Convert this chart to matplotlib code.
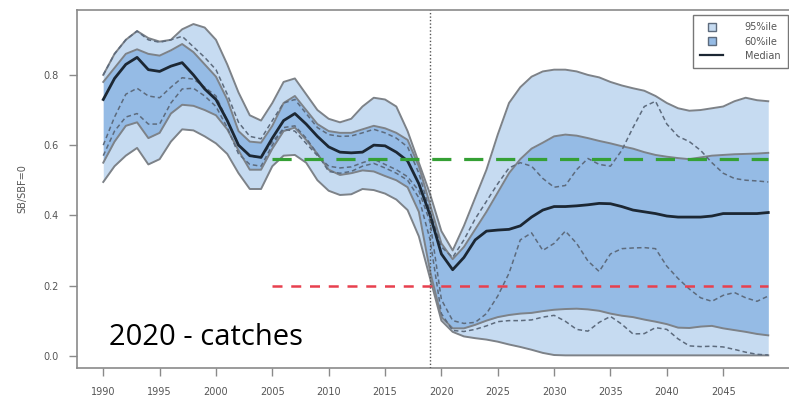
import numpy as np
import matplotlib.pyplot as plt
from matplotlib.lines import Line2D

years = np.arange(1990, 2050)

median = [0.73, 0.79, 0.83, 0.85, 0.815, 0.81, 0.825, 0.835, 0.80, 0.76,
          0.73, 0.67, 0.60, 0.57, 0.565, 0.62, 0.67, 0.69, 0.66, 0.625,
          0.595, 0.58, 0.578, 0.58, 0.60, 0.598, 0.58, 0.555, 0.49, 0.40,
          0.29, 0.245, 0.28, 0.33, 0.355, 0.358, 0.36, 0.37, 0.395, 0.415,
          0.425, 0.425, 0.427, 0.43, 0.434, 0.433, 0.425, 0.415, 0.41, 0.405,
          0.398, 0.395, 0.395, 0.395, 0.398, 0.405, 0.405, 0.405, 0.405, 0.408]

upper95 = [0.80, 0.86, 0.90, 0.925, 0.905, 0.895, 0.90, 0.93, 0.945, 0.935,
           0.90, 0.83, 0.75, 0.685, 0.67, 0.72, 0.78, 0.79, 0.745, 0.70,
           0.675, 0.665, 0.675, 0.71, 0.735, 0.73, 0.71, 0.64, 0.55, 0.46,
           0.355, 0.30, 0.37, 0.45, 0.53, 0.63, 0.72, 0.765, 0.795, 0.81,
           0.815, 0.815, 0.81, 0.80, 0.793, 0.78, 0.77, 0.762, 0.755, 0.74,
           0.72, 0.705, 0.698, 0.70, 0.705, 0.71, 0.725, 0.735, 0.728, 0.725]

lower95 = [0.495, 0.54, 0.57, 0.592, 0.545, 0.56, 0.61, 0.645, 0.642, 0.625,
           0.605, 0.575, 0.52, 0.475, 0.475, 0.54, 0.57, 0.572, 0.55, 0.50,
           0.47, 0.458, 0.46, 0.475, 0.472, 0.462, 0.445, 0.415, 0.34, 0.22,
           0.10, 0.068, 0.055, 0.05, 0.046, 0.04, 0.032, 0.025, 0.017, 0.008,
           0.002, 0.001, 0.001, 0.001, 0.001, 0.001, 0.001, 0.001, 0.001, 0.001,
           0.001, 0.001, 0.001, 0.001, 0.001, 0.001, 0.001, 0.001, 0.001, 0.001]

upper60 = [0.78, 0.82, 0.86, 0.873, 0.86, 0.855, 0.87, 0.888, 0.865, 0.83,
           0.795, 0.73, 0.64, 0.61, 0.607, 0.655, 0.72, 0.74, 0.70, 0.66,
           0.64, 0.635, 0.635, 0.645, 0.655, 0.648, 0.635, 0.615, 0.54, 0.43,
           0.32, 0.275, 0.31, 0.36, 0.41, 0.465, 0.52, 0.56, 0.59, 0.607,
           0.625, 0.63, 0.627, 0.62, 0.612, 0.605, 0.597, 0.59, 0.58, 0.572,
           0.567, 0.563, 0.56, 0.565, 0.57, 0.572, 0.574, 0.575, 0.576, 0.578]

lower60 = [0.55, 0.61, 0.655, 0.665, 0.62, 0.635, 0.69, 0.715, 0.712, 0.70,
           0.685, 0.645, 0.585, 0.53, 0.53, 0.59, 0.64, 0.65, 0.615, 0.575,
           0.53, 0.515, 0.52, 0.528, 0.525, 0.512, 0.50, 0.48, 0.41, 0.24,
           0.11, 0.078, 0.078, 0.088, 0.10, 0.11, 0.116, 0.12, 0.122, 0.127,
           0.131, 0.133, 0.134, 0.132, 0.128, 0.12, 0.114, 0.11, 0.103, 0.097,
           0.09, 0.08, 0.079, 0.083, 0.085, 0.078, 0.073, 0.068, 0.062, 0.058]

run_a = [0.80, 0.86, 0.90, 0.925, 0.90, 0.893, 0.90, 0.91, 0.88, 0.85,
         0.815, 0.745, 0.665, 0.625, 0.618, 0.67, 0.72, 0.73, 0.69, 0.65,
         0.63, 0.625, 0.626, 0.635, 0.645, 0.635, 0.62, 0.595, 0.52, 0.41,
         0.31, 0.28, 0.33, 0.39, 0.44, 0.49, 0.535, 0.55, 0.54, 0.505,
         0.48, 0.485, 0.53, 0.562, 0.545, 0.54, 0.585, 0.65, 0.71, 0.725,
         0.66, 0.625, 0.61, 0.585, 0.55, 0.52, 0.505, 0.50, 0.498, 0.495]

run_b = [0.60, 0.68, 0.745, 0.762, 0.74, 0.735, 0.765, 0.792, 0.788, 0.765,
         0.74, 0.67, 0.60, 0.568, 0.565, 0.61, 0.645, 0.64, 0.605, 0.57,
         0.54, 0.535, 0.538, 0.55, 0.56, 0.545, 0.53, 0.51, 0.47, 0.38,
         0.16, 0.10, 0.092, 0.095, 0.12, 0.17, 0.235, 0.33, 0.35, 0.30,
         0.32, 0.355, 0.32, 0.27, 0.24, 0.29, 0.305, 0.307, 0.308, 0.305,
         0.255, 0.22, 0.19, 0.165, 0.155, 0.172, 0.18, 0.165, 0.155, 0.17]

run_c = [0.57, 0.64, 0.68, 0.69, 0.66, 0.66, 0.72, 0.76, 0.762, 0.74,
         0.71, 0.65, 0.575, 0.545, 0.54, 0.60, 0.65, 0.655, 0.62, 0.575,
         0.525, 0.52, 0.525, 0.54, 0.548, 0.535, 0.52, 0.50, 0.45, 0.33,
         0.12, 0.072, 0.069, 0.075, 0.085, 0.097, 0.10, 0.10, 0.102, 0.11,
         0.115, 0.098, 0.075, 0.07, 0.095, 0.112, 0.09, 0.062, 0.063, 0.08,
         0.075, 0.048, 0.028, 0.026, 0.027, 0.025, 0.018, 0.01, 0.004, 0.002]

target_ref = 0.56
limit_ref = 0.2
ref_years = [2005, 2049]
current_year = 2019

fig = plt.figure(figsize=(7.89, 3.98), dpi=100)
ax = fig.add_axes([77/789, 30/398, 760/789, 358/398])

light = '#c6dbf1'
dark = '#95bbe5'
edge = '#7d8288'

ax.fill_between(years, lower95, upper95, color=light, lw=0, zorder=1)
ax.fill_between(years, lower60, upper60, color=dark, lw=0, zorder=2)
for s in (upper95, lower95, upper60, lower60):
    ax.plot(years, s, color=edge, lw=1.4, zorder=3)
for s in (run_a, run_b, run_c):
    ax.plot(years, s, color='#5d6b7d', lw=1.1, ls=(0, (3, 2)), zorder=4)
ax.plot(years, median, color='#1c2733', lw=2.0, zorder=5)

ax.plot(ref_years, [target_ref]*2, color='#35a035', lw=2.3, ls=(0, (6, 4)), zorder=6)
ax.plot(ref_years, [limit_ref]*2, color='#e8404e', lw=1.8, ls=(0, (4, 3.5)), zorder=6)
ax.axvline(current_year, color='#555555', lw=1.0, ls=(0, (1, 1.5)), zorder=6)

ax.set_xlim(1987.67, 2055.1)
ax.set_ylim(-0.035, 0.985)
ax.set_xticks(np.arange(1990, 2050, 5))
ax.set_yticks([0.0, 0.2, 0.4, 0.6, 0.8])
ax.set_yticklabels(['0.0', '0.2', '0.4', '0.6', '0.8'])
ax.tick_params(colors='#8a8a8a', labelcolor='#555555', labelsize=7, length=6, width=1)
ax.tick_params(axis='x', pad=8)
ax.tick_params(axis='y', pad=7)
for sp in ax.spines.values():
    sp.set_color('#8a8a8a')
    sp.set_linewidth(1.2)
ax.set_ylabel('SB/SBF=0', fontsize=7, color='#555555', labelpad=12)

ax.text(1990.5, 0.03, '2020 - catches', fontsize=21, family='Open Sans', color='black', zorder=7)

handles = [Line2D([], [], marker='s', ls='none', markersize=6, markerfacecolor=light, markeredgecolor='#5d6b7d'),
           Line2D([], [], marker='s', ls='none', markersize=6, markerfacecolor=dark, markeredgecolor='#5d6b7d'),
           Line2D([], [], color='#1c2733', lw=1.6)]
leg = ax.legend(handles, ['95%ile', '60%ile', 'Median'], loc='upper left',
                bbox_to_anchor=((688-77)/760, 1.0), fontsize=7, frameon=True, fancybox=False,
                handlelength=2.4, handletextpad=2.2, labelspacing=0.45, borderpad=0.75)
leg.get_frame().set_edgecolor('#555555')
leg.get_frame().set_linewidth(1.0)
for t in leg.get_texts():
    t.set_color('#555555')

fig.savefig('out.png', dpi=100)
